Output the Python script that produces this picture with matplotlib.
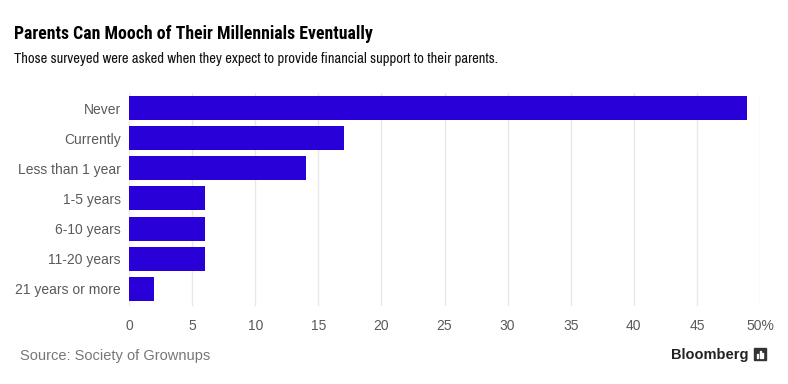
import matplotlib
matplotlib.use("Agg")
import matplotlib.pyplot as plt
from matplotlib.patches import Rectangle

categories = ["Never", "Currently", "Less than 1 year", "1-5 years",
              "6-10 years", "11-20 years", "21 years or more"]
values = [49, 17, 14, 6, 6, 6, 2]
xticks = [0, 5, 10, 15, 20, 25, 30, 35, 40, 45, 50]
xtick_labels = ["0", "5", "10", "15", "20", "25", "30", "35", "40", "45", "50%"]

title = "Parents Can Mooch of Their Millennials Eventually"
subtitle = "Those surveyed were asked when they expect to provide financial support to their parents."
source = "Source: Society of Grownups"

W, H = 788, 384
fig = plt.figure(figsize=(W / 100, H / 100), dpi=100)
fig.patch.set_facecolor("white")

left, right = 129 / W, 760 / W
top, bottom = 1 - 93 / H, 1 - 306 / H
ax = fig.add_axes([left, bottom, right - left, top - bottom])

bar_color = "#2a00d9"
ypos = list(range(len(categories)))
ax.barh(ypos, values, height=0.8, color=bar_color, zorder=3)
ax.set_ylim(6.57, -0.5)
ax.set_xlim(0, 50)
ax.set_yticks(ypos)
ax.set_yticklabels(categories)
ax.set_xticks(xticks)
ax.set_xticklabels(xtick_labels)

for s in ax.spines.values():
    s.set_visible(False)
ax.grid(axis="x", color="#e8e8e8", linewidth=1, zorder=0)
ax.tick_params(axis="both", length=0, labelsize=10, labelcolor="#5a5a5a",
               labelfontfamily="Liberation Sans")
ax.tick_params(axis="y", pad=6)
ax.tick_params(axis="x", pad=9)

fig.text(14 / W, 1 - 34 / H, title, fontsize=12.8, fontweight="bold",
         family=["Roboto Condensed", "IBM Plex Sans Condensed", "DejaVu Sans"],
         color="#000000", va="center", ha="left")
fig.text(14 / W, 1 - 59 / H, subtitle, fontsize=10.5,
         family=["Archivo Narrow", "DejaVu Sans"], color="#111111",
         va="center", ha="left")
fig.text(20 / W, 1 - 356 / H, source, fontsize=10.5, family="Liberation Sans",
         color="#777777", va="center", ha="left")
fig.text(749 / W, 1 - 355 / H, "Bloomberg", fontsize=10.5, fontweight="bold",
         family="Liberation Sans", color="#222222", va="center", ha="right")

# small Bloomberg logo mark
ix, iy, iw, ih = 754, 348, 12, 12
fig.patches.append(Rectangle((ix / W, 1 - (iy + ih) / H), iw / W, ih / H,
                             transform=fig.transFigure, color="#333333"))
for k, hh in enumerate([4, 7, 5]):
    fig.patches.append(Rectangle(((ix + 3 + k * 2.5) / W, 1 - (iy + 10) / H),
                                 1.2 / W, hh / H, transform=fig.transFigure,
                                 color="white"))

fig.savefig("out.png", dpi=100)
